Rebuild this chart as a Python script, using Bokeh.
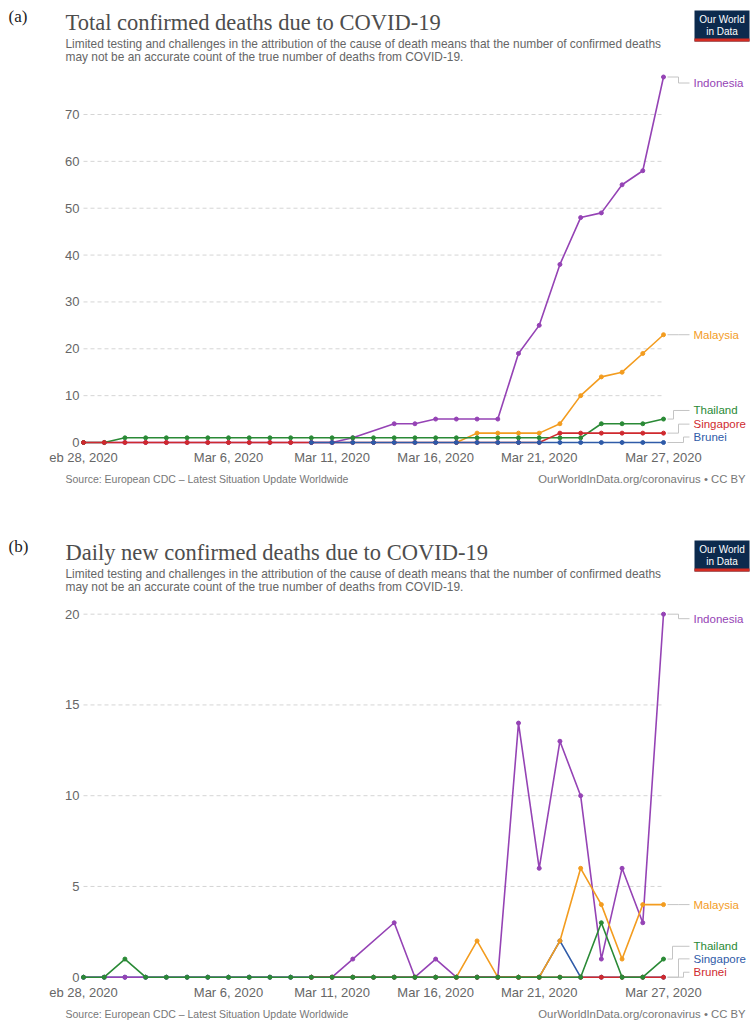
import numpy as np
from bokeh.plotting import figure
from bokeh.models import FixedTicker
from bokeh.layouts import column
from bokeh.embed import file_html
from bokeh.resources import INLINE
from bokeh.core.properties import value

N = None
dates = ["2020-02-28", "2020-02-29", "2020-03-01", "2020-03-02", "2020-03-03", "2020-03-04",
         "2020-03-05", "2020-03-06", "2020-03-07", "2020-03-08", "2020-03-09", "2020-03-10",
         "2020-03-11", "2020-03-12", "2020-03-13", "2020-03-14", "2020-03-15", "2020-03-16",
         "2020-03-17", "2020-03-18", "2020-03-19", "2020-03-20", "2020-03-21", "2020-03-22",
         "2020-03-23", "2020-03-24", "2020-03-25", "2020-03-26", "2020-03-27"]
tick_dates = ["2020-02-28", "2020-03-06", "2020-03-11", "2020-03-16", "2020-03-21", "2020-03-27"]
tick_labels = ["eb 28, 2020", "Mar 6, 2020", "Mar 11, 2020", "Mar 16, 2020", "Mar 21, 2020", "Mar 27, 2020"]

# (a) total confirmed deaths
total_indonesia = [0, 0, 0, 0, 0, 0, 0, 0, 0, 0, 0, 0, 0, 1, N, 4, 4, 5, 5, 5, 5, 19, 25, 38, 48, 49, 55, 58, 78]
total_malaysia = [N, N, N, N, N, N, N, N, N, N, N, N, N, N, N, N, N, N, 0, 2, 2, 2, 2, 4, 10, 14, 15, 19, 23]
total_thailand = [0, 0, 1, 1, 1, 1, 1, 1, 1, 1, 1, 1, 1, 1, 1, 1, 1, 1, 1, 1, 1, 1, 1, 1, 1, 4, 4, 4, 5]
total_singapore = [0, 0, 0, 0, 0, 0, 0, 0, 0, 0, 0, 0, 0, 0, 0, 0, 0, 0, 0, 0, 0, 0, 0, 2, 2, 2, 2, 2, 2]
total_brunei = [N, N, N, N, N, N, N, N, N, N, N, 0, 0, 0, 0, 0, 0, 0, 0, 0, 0, 0, 0, 0, 0, 0, 0, 0, 0]

# (b) daily new confirmed deaths
daily_indonesia = [0, 0, 0, 0, 0, 0, 0, 0, 0, 0, 0, 0, 0, 1, N, 3, 0, 1, 0, 0, 0, 14, 6, 13, 10, 1, 6, 3, 20]
daily_malaysia = [N, N, N, N, N, N, N, N, N, N, N, N, N, N, N, N, N, N, 0, 2, 0, 0, 0, 2, 6, 4, 1, 4, 4]
daily_thailand = [0, 0, 1, 0, 0, 0, 0, 0, 0, 0, 0, 0, 0, 0, 0, 0, 0, 0, 0, 0, 0, 0, 0, 0, 0, 3, 0, 0, 1]
daily_singapore = [0, 0, 0, 0, 0, 0, 0, 0, 0, 0, 0, 0, 0, 0, 0, 0, 0, 0, 0, 0, 0, 0, 0, 2, 0, 0, 0, 0, 0]
daily_brunei = [N, N, N, N, N, N, N, N, N, N, N, 0, 0, 0, 0, 0, 0, 0, 0, 0, 0, 0, 0, 0, 0, 0, 0, 0, 0]

y_ticks_a = [0, 10, 20, 30, 40, 50, 60, 70]
y_ticks_b = [0, 5, 10, 15, 20]

SUBTITLE_1 = "Limited testing and challenges in the attribution of the cause of death means that the number of confirmed deaths"
SUBTITLE_2 = "may not be an accurate count of the true number of deaths from COVID-19."
SOURCE = "Source: European CDC \u2013 Latest Situation Update Worldwide"
CREDIT = "OurWorldInData.org/coronavirus \u2022 CC BY"

PURPLE = "#9543b5"
ORANGE = "#f39c1f"
GREEN = "#2a8a36"
RED = "#cf2a2f"
BLUE = "#2f5ba8"

SANS = "Liberation Sans"
SERIF = "Liberation Serif"

day0 = np.datetime64(dates[0])
days = (np.array(dates, dtype="datetime64[D]") - day0).astype(int)
tick_days = (np.array(tick_dates, dtype="datetime64[D]") - day0).astype(int)

FIG_W = 755
FRAME_L = 80
FRAME_W = FIG_W - FRAME_L
PX_PER_DAY = 580 / 28.0          # Feb 28 at x=83, Mar 27 at x=663
X_START = -3 / PX_PER_DAY
X_END = X_START + FRAME_W / PX_PER_DAY


def text_fig(h):
    f = figure(width=FIG_W, height=h, x_range=(0, FIG_W), y_range=(h, 0),
               x_axis_type=None, y_axis_type=None, output_backend="svg",
               toolbar_location=None, min_border=0, min_border_left=0,
               min_border_right=0, min_border_top=0, min_border_bottom=0,
               frame_align=False)
    f.outline_line_color = None
    return f


def put(f, x, y, txt, size, color, font, align="left"):
    f.text(x=[x], y=[y], text=[txt], text_font=value(font), text_font_size=size,
           text_color=color, text_align=align, text_baseline="middle")


def header(letter, title, h, y0):
    f = text_fig(h)
    put(f, 8, y0 + 8, letter, "17px", "#222222", SERIF)
    put(f, 65, y0 + 14, title, "22.5px", "#4d4d4d", SERIF)
    put(f, 65, y0 + 35, SUBTITLE_1, "11.9px", "#666666", SANS)
    put(f, 65, y0 + 48, SUBTITLE_2, "11.9px", "#666666", SANS)
    f.quad(left=[694], right=[749], top=[y0 + 2], bottom=[y0 + 33], fill_color="#0c2a4d",
           line_color=None)
    f.quad(left=[694], right=[749], top=[y0 + 30], bottom=[y0 + 33], fill_color="#d42b21",
           line_color=None)
    put(f, 721.5, y0 + 11, "Our World", "10px", "#ffffff", SANS, align="center")
    put(f, 721.5, y0 + 22.5, "in Data", "10px", "#ffffff", SANS, align="center")
    return f


def footer(h, y):
    f = text_fig(h)
    put(f, 65, y, SOURCE, "10.5px", "#777777", SANS)
    put(f, 745, y, CREDIT, "11.3px", "#777777", SANS, align="right")
    return f


def chart(series, y_ticks, y_zero_px, y_unit_px, fig_h, border_top, border_bottom, label_cfg):
    frame_h = fig_h - border_top - border_bottom
    y_start = -y_zero_px / y_unit_px
    y_end = (frame_h - y_zero_px) / y_unit_px
    p = figure(width=FIG_W, height=fig_h, x_range=(X_START, X_END), y_range=(y_start, y_end),
               output_backend="svg", toolbar_location=None,
               min_border_left=FRAME_L, min_border_right=0,
               min_border_top=border_top, min_border_bottom=border_bottom,
               frame_align=False)
    p.outline_line_color = None
    p.xgrid.grid_line_color = None
    p.ygrid.grid_line_color = None

    p.xaxis.ticker = FixedTicker(ticks=list(tick_days))
    p.xaxis.major_label_overrides = {int(d): t for d, t in zip(tick_days, tick_labels)}
    p.yaxis.ticker = FixedTicker(ticks=y_ticks)
    for ax in (p.xaxis[0], p.yaxis[0]):
        ax.axis_line_color = None
        ax.major_tick_line_color = None
        ax.minor_tick_line_color = None
        ax.major_tick_out = 0
        ax.major_tick_in = 0
        ax.minor_tick_out = 0
        ax.major_label_text_font = SANS
        ax.major_label_text_font_size = "13px"
        ax.major_label_text_color = "#666666"
    p.xaxis.major_label_standoff = 3
    p.yaxis.major_label_standoff = 1

    gy = [t for t in y_ticks if t != 0]
    p.segment(x0=[days[0]] * len(gy), x1=[days[-1]] * len(gy), y0=gy, y1=gy,
              line_color="#d5d5d5", line_width=1, line_dash="4 3")

    for name, vals, color in series:
        xs = [d for d, v in zip(days, vals) if v is not None]
        ys = [v for v in vals if v is not None]
        p.line(xs, ys, line_color=color, line_width=1.6)
        p.scatter(xs, ys, size=4, fill_color=color, line_color=color)

    for name, vals, color in series:
        dy_px, knee_px = label_cfg[name]
        last_v = [v for v in vals if v is not None][-1]
        y_lab = last_v + dy_px / y_unit_px
        x_a = days[-1] + 4 / PX_PER_DAY
        x_k = days[-1] + (knee_px - 663) / PX_PER_DAY
        x_b = days[-1] + (689 - 663) / PX_PER_DAY
        p.line([x_a, x_k, x_k, x_b], [last_v, last_v, y_lab, y_lab],
               line_color="#c4c4c4", line_width=1)
        p.text(x=[days[-1] + (693 - 663) / PX_PER_DAY], y=[y_lab], text=[name],
               text_color=color, text_font=value(SANS), text_font_size="11.5px",
               text_baseline="middle", text_align="left")
    return p


series_a = [("Indonesia", total_indonesia, PURPLE),
            ("Malaysia", total_malaysia, ORANGE),
            ("Thailand", total_thailand, GREEN),
            ("Singapore", total_singapore, RED),
            ("Brunei", total_brunei, BLUE)]
cfg_a = {"Indonesia": (-6, 678), "Malaysia": (0, 678), "Thailand": (8.6, 673),
         "Singapore": (9, 678), "Brunei": (5.5, 683)}

series_b = [("Singapore", daily_singapore, BLUE),
            ("Indonesia", daily_indonesia, PURPLE),
            ("Malaysia", daily_malaysia, ORANGE),
            ("Brunei", daily_brunei, RED),
            ("Thailand", daily_thailand, GREEN)]
cfg_b = {"Indonesia": (-4.5, 678), "Malaysia": (0, 678), "Thailand": (12.8, 672),
         "Singapore": (18.4, 678), "Brunei": (5, 683)}

# page layout: header_a 0-66, chart_a 66-468, footer_a 468-500,
#              header_b 500-602, chart_b 602-1002, footer_b 1002-1028
ha = header("(a)", "Total confirmed deaths due to COVID-19", 66, 8)
ca = chart(series_a, y_ticks_a, y_zero_px=4, y_unit_px=(442 - 114) / 70.0,
           fig_h=402, border_top=6, border_bottom=22, label_cfg=cfg_a)
fa = footer(32, 10)
hb = header("(b)", "Daily new confirmed deaths due to COVID-19", 102, 38)
cb = chart(series_b, y_ticks_b, y_zero_px=4.3, y_unit_px=(977.7 - 613.7) / 20.0,
           fig_h=400, border_top=6, border_bottom=20, label_cfg=cfg_b)
fb = footer(26, 11)

layout = column(ha, ca, fa, hb, cb, fb, spacing=0)
open("out.html", "w").write(file_html(layout, INLINE))
